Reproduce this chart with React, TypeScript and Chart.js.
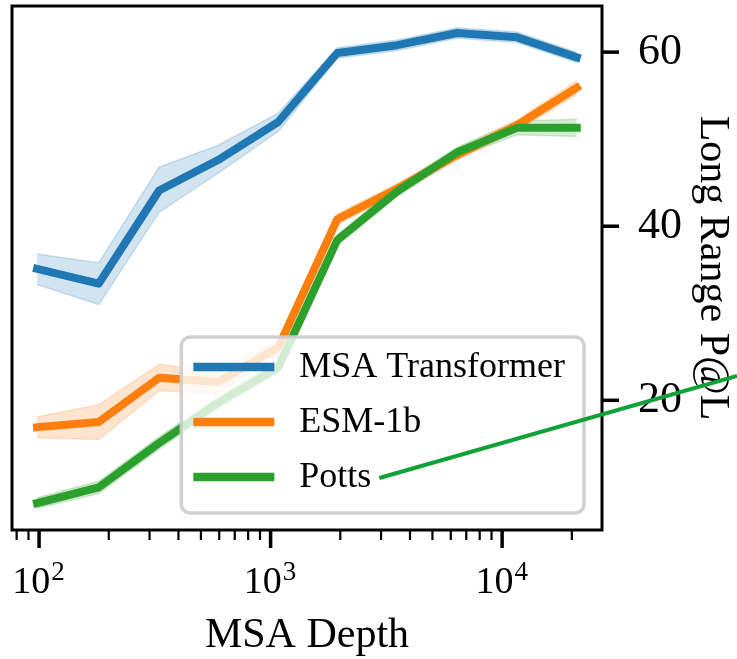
import React, { useEffect, useRef } from "react";
import { Chart, registerables } from "chart.js";

Chart.register(...registerables);

// ---- data ----
const depth = [98, 181, 330, 593, 1080, 1940, 3520, 6400, 11600, 21000];

const msaMean = [35.1, 33.4, 44.1, 47.6, 52.0, 59.9, 60.8, 62.2, 61.7, 59.4];
const msaLow = [33.3, 31.0, 41.6, 46.1, 50.9, 59.3, 60.2, 61.6, 61.1, 58.8];
const msaHigh = [36.8, 35.8, 46.8, 49.3, 53.0, 60.5, 61.4, 62.8, 62.3, 60.0];

const esmMean = [16.9, 17.5, 22.6, 22.1, 26.1, 40.8, 44.3, 48.2, 51.6, 55.9];
const esmLow = [15.7, 15.5, 21.1, 20.8, 25.3, 40.2, 43.7, 47.6, 51.0, 55.1];
const esmHigh = [18.1, 19.5, 24.1, 23.4, 26.9, 41.4, 44.9, 48.8, 52.2, 56.7];

const pottsMean = [8.2, 10.0, 15.1, 19.7, 23.8, 38.4, 44.0, 48.5, 51.3, 51.3];
const pottsLow = [7.6, 9.3, 14.4, 19.0, 23.1, 37.8, 43.4, 47.9, 50.5, 50.3];
const pottsHigh = [8.8, 10.7, 15.8, 20.4, 24.5, 39.0, 44.6, 49.1, 52.1, 52.3];

const seriesLabels = ["MSA Transformer", "ESM-1b", "Potts"];
const seriesColors = ["#1f77b4", "#ff7f0e", "#2ca02c"];
const seriesBands = ["rgba(31,119,180,0.2)", "rgba(255,127,14,0.2)", "rgba(44,160,44,0.2)"];

const xTickValues = [100, 1000, 10000];
const xTickBase = "10";
const xTickExponents = ["2", "3", "4"];
const xMinorValues = [80, 90, 200, 300, 400, 500, 600, 700, 800, 900, 2000, 3000, 4000, 5000, 6000, 7000, 8000, 9000, 20000];
const yTickValues = [20, 40, 60];
const yTickLabels = ["20", "40", "60"];

const xTitle = "MSA Depth";
const yTitle = "Long Range P@L";

const FONT = "'Liberation Serif', 'Times New Roman', Times, serif";
const W = 737;
const H = 659;

const toPts = (ys: number[]) => depth.map((x, i) => ({ x, y: ys[i] }));

const decorPlugin = {
  id: "decor",
  afterDatasetsDraw(chart: any) {
    const ctx = chart.ctx;
    const ca = chart.chartArea;
    ctx.save();
    // legend
    ctx.font = `36px ${FONT}`;
    const textW = Math.max(...seriesLabels.map((l) => ctx.measureText(l).width));
    const padL = 12, handle = 81, gap = 25, padR = 19;
    const boxW = padL + handle + gap + textW + padR;
    const boxH = 176;
    const right = ca.right - 18;
    const bottom = ca.bottom - 17;
    const left = right - boxW;
    const top = bottom - boxH;
    ctx.beginPath();
    ctx.roundRect(left, top, boxW, boxH, 9);
    ctx.fillStyle = "rgba(255,255,255,0.8)";
    ctx.fill();
    ctx.lineWidth = 3.5;
    ctx.strokeStyle = "rgba(204,204,204,0.9)";
    ctx.stroke();
    seriesLabels.forEach((lab, i) => {
      const y = top + 30 + i * 55;
      ctx.beginPath();
      ctx.moveTo(left + padL, y);
      ctx.lineTo(left + padL + handle, y);
      ctx.lineWidth = 8.5;
      ctx.strokeStyle = seriesColors[i];
      ctx.lineCap = "butt";
      ctx.stroke();
      ctx.fillStyle = "#000";
      ctx.textBaseline = "middle";
      ctx.textAlign = "left";
      ctx.fillText(lab, left + padL + handle + gap, y + 1);
    });
    const pw = ctx.measureText(seriesLabels[2]).width;
    chart._annot = { sx: left + padL + handle + gap + pw + 8, sy: top + 30 + 2 * 55 + 1 };
    ctx.restore();
  },
  afterDraw(chart: any) {
    const ctx = chart.ctx;
    const ca = chart.chartArea;
    const xs = chart.scales.x;
    const ys = chart.scales.y;
    ctx.save();
    // frame
    ctx.strokeStyle = "#000";
    ctx.lineWidth = 3;
    ctx.strokeRect(ca.left, ca.top, ca.right - ca.left, ca.bottom - ca.top);
    // x ticks
    ctx.lineCap = "butt";
    xTickValues.forEach((v) => {
      const px = xs.getPixelForValue(v);
      ctx.beginPath();
      ctx.lineWidth = 3.5;
      ctx.moveTo(px, ca.bottom);
      ctx.lineTo(px, ca.bottom + 18);
      ctx.stroke();
    });
    xMinorValues.forEach((v) => {
      const px = xs.getPixelForValue(v);
      ctx.beginPath();
      ctx.lineWidth = 2.2;
      ctx.moveTo(px, ca.bottom);
      ctx.lineTo(px, ca.bottom + 10);
      ctx.stroke();
    });
    yTickValues.forEach((v) => {
      const py = ys.getPixelForValue(v);
      ctx.beginPath();
      ctx.lineWidth = 3.5;
      ctx.moveTo(ca.right, py);
      ctx.lineTo(ca.right + 17, py);
      ctx.stroke();
    });
    // x tick labels: 10 with superscript exponent
    ctx.fillStyle = "#000";
    ctx.textBaseline = "alphabetic";
    ctx.textAlign = "left";
    xTickValues.forEach((v, i) => {
      const px = xs.getPixelForValue(v);
      ctx.font = `38px ${FONT}`;
      const wb = ctx.measureText(xTickBase).width;
      ctx.font = `27px ${FONT}`;
      const we = ctx.measureText(xTickExponents[i]).width;
      const x0 = px - (wb + we) / 2 - 1;
      ctx.font = `38px ${FONT}`;
      ctx.fillText(xTickBase, x0, ca.bottom + 63);
      ctx.font = `27px ${FONT}`;
      ctx.fillText(xTickExponents[i], x0 + wb + 1, ca.bottom + 50);
    });
    // stray annotation line from "Potts" entry to the right edge
    const a = chart._annot;
    if (a) {
      ctx.beginPath();
      ctx.strokeStyle = "#12a03a";
      ctx.lineWidth = 4;
      ctx.moveTo(a.sx, a.sy);
      ctx.lineTo(W, 376);
      ctx.stroke();
    }
    ctx.restore();
  },
};

export default function App() {
  const ref = useRef<HTMLCanvasElement>(null);
  useEffect(() => {
    if (!ref.current) return;
    const means = [msaMean, esmMean, pottsMean];
    const lows = [msaLow, esmLow, pottsLow];
    const highs = [msaHigh, esmHigh, pottsHigh];
    const lineOrder = [1, 3, 2];
    const datasets: any[] = [];
    means.forEach((m, i) => {
      datasets.push({
        label: seriesLabels[i] + " low",
        data: toPts(lows[i]),
        borderColor: seriesBands[i],
        borderWidth: 1.5,
        pointRadius: 0,
        fill: false,
        order: 10,
      });
      datasets.push({
        label: seriesLabels[i] + " high",
        data: toPts(highs[i]),
        borderColor: seriesBands[i],
        backgroundColor: seriesBands[i],
        borderWidth: 1.5,
        pointRadius: 0,
        fill: "-1",
        order: 10,
      });
      datasets.push({
        label: seriesLabels[i],
        data: toPts(m),
        borderColor: seriesColors[i],
        borderWidth: 8,
        pointRadius: 0,
        fill: false,
        borderJoinStyle: "round",
        borderCapStyle: "square",
        order: lineOrder[i],
      });
    });

    const chart = new Chart(ref.current, {
      type: "line",
      data: { datasets },
      plugins: [decorPlugin],
      options: {
        animation: false,
        responsive: false,
        layout: { padding: { left: 12, top: 6, right: 0, bottom: 0 } },
        plugins: { legend: { display: false }, tooltip: { enabled: false } },
        elements: { line: { tension: 0 } },
        scales: {
          x: {
            type: "logarithmic",
            position: "bottom",
            min: 76.4,
            max: 27000,
            grid: { display: false, drawTicks: false },
            border: { display: false },
            afterBuildTicks: (s: any) => {
              s.ticks = xTickValues.map((v) => ({ value: v }));
            },
            afterFit: (s: any) => {
              s.height = H - 530;
              s.paddingLeft = 0;
              s.paddingRight = 0;
            },
            ticks: { display: false },
            title: {
              display: true,
              text: xTitle,
              color: "#000",
              font: { family: FONT, size: 42, lineHeight: 1.1 },
              padding: { top: 0, bottom: 0 },
            },
          },
          y: {
            type: "linear",
            position: "right",
            min: 5.1,
            max: 65.3,
            grid: { display: false, drawTicks: true, tickLength: 17 },
            border: { display: false },
            afterBuildTicks: (s: any) => {
              s.ticks = yTickValues.map((v) => ({ value: v }));
            },
            afterFit: (s: any) => {
              s.width = W - 602;
              s.paddingTop = 0;
              s.paddingBottom = 0;
            },
            ticks: {
              color: "#000",
              padding: 19,
              font: { family: FONT, size: 44 },
              callback: (v: any) => {
                const i = yTickValues.indexOf(Number(v));
                return i >= 0 ? yTickLabels[i] : "";
              },
            },
            title: {
              display: true,
              text: yTitle,
              color: "#000",
              font: { family: FONT, size: 42 },
              padding: { top: 0, bottom: 0 },
            },
          },
        },
      } as any,
    });
    return () => chart.destroy();
  }, []);

  return (
    <div style={{ position: "absolute", left: 0, top: 0, width: W, height: H, background: "#fff" }}>
      <canvas ref={ref} width={W} height={H} style={{ display: "block" }} />
    </div>
  );
}
